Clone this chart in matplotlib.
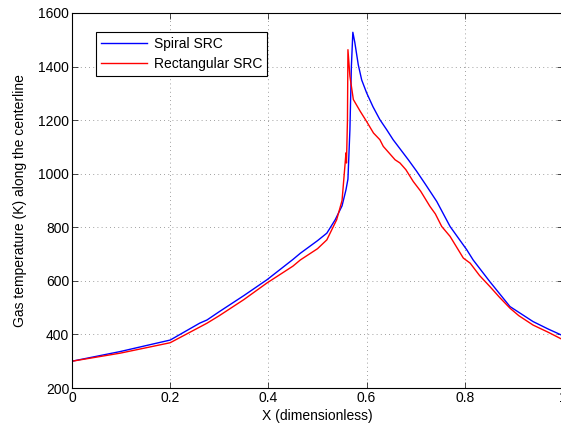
import numpy as np
import matplotlib
matplotlib.use('Agg')
import matplotlib.pyplot as plt

plt.rcParams['font.family'] = ['Liberation Sans', 'DejaVu Sans']
plt.rcParams['font.size'] = 10

# Spiral SRC
x_spiral = [0, 0.098, 0.2, 0.26, 0.275, 0.3, 0.35, 0.397, 0.45, 0.465, 0.5, 0.519, 0.536,
            0.55, 0.558, 0.562, 0.566, 0.569, 0.572, 0.576, 0.583, 0.59, 0.6, 0.613, 0.627,
            0.641, 0.654, 0.685, 0.702, 0.72, 0.743, 0.77, 0.804, 0.817, 0.851, 0.892,
            0.939, 0.97, 1.0]
t_spiral = [300, 336, 379, 442, 454, 485, 545, 604, 680, 703, 750, 778, 828,
            880, 940, 980, 1164, 1400, 1528, 1490, 1407, 1350, 1302, 1250, 1202,
            1164, 1127, 1052, 1009, 960, 896, 803, 716, 678, 597, 504,
            448, 420, 395]

# Rectangular SRC
x_rect = [0, 0.098, 0.2, 0.275, 0.3, 0.35, 0.397, 0.45, 0.465, 0.5, 0.519, 0.539,
          0.55, 0.556, 0.558, 0.559, 0.561, 0.562, 0.566, 0.573, 0.587, 0.6, 0.614,
          0.627, 0.634, 0.658, 0.668, 0.68, 0.695, 0.71, 0.729, 0.74, 0.753, 0.77,
          0.797, 0.811, 0.83, 0.851, 0.87, 0.892, 0.91, 0.939, 0.97, 1.0]
t_rect = [300, 330, 369, 442, 470, 530, 592, 655, 678, 720, 753, 828,
          900, 1033, 1078, 1040, 1200, 1463, 1364, 1277, 1233, 1195, 1152,
          1127, 1102, 1052, 1040, 1015, 971, 935, 878, 850, 803, 766,
          685, 666, 620, 579, 540, 498, 470, 435, 408, 380]

fig = plt.figure(figsize=(5.61, 4.33), dpi=100)
ax = fig.add_axes([72/561, 45/433, 491/561, 375/433])

ax.plot(x_spiral, t_spiral, color='blue', lw=1, label='Spiral SRC')
ax.plot(x_rect, t_rect, color='red', lw=1, label='Rectangular SRC')

ax.set_xlim(0, 1)
ax.set_ylim(200, 1600)
ax.set_xticks([0, 0.2, 0.4, 0.6, 0.8, 1])
ax.set_xticklabels(['0', '0.2', '0.4', '0.6', '0.8', '1'])
ax.set_yticks(np.arange(200, 1601, 200))
ax.tick_params(direction='in', top=True, right=True, length=4, width=0.5, pad=2)
ax.grid(True, linestyle=(0, (1, 4)), color='gray', lw=0.6)
for s in ax.spines.values():
    s.set_linewidth(0.8)

ax.set_xlabel('X (dimensionless)', labelpad=3)
ax.set_ylabel('Gas temperature (K) along the centerline', labelpad=8)

leg = ax.legend(loc='upper left', bbox_to_anchor=(0.049, 0.95), fancybox=False,
                edgecolor='black', framealpha=1, handlelength=3.3, borderpad=0.35,
                labelspacing=0.45, handletextpad=0.5, borderaxespad=0)
leg.get_frame().set_linewidth(0.8)

fig.savefig('out.png', dpi=100)
